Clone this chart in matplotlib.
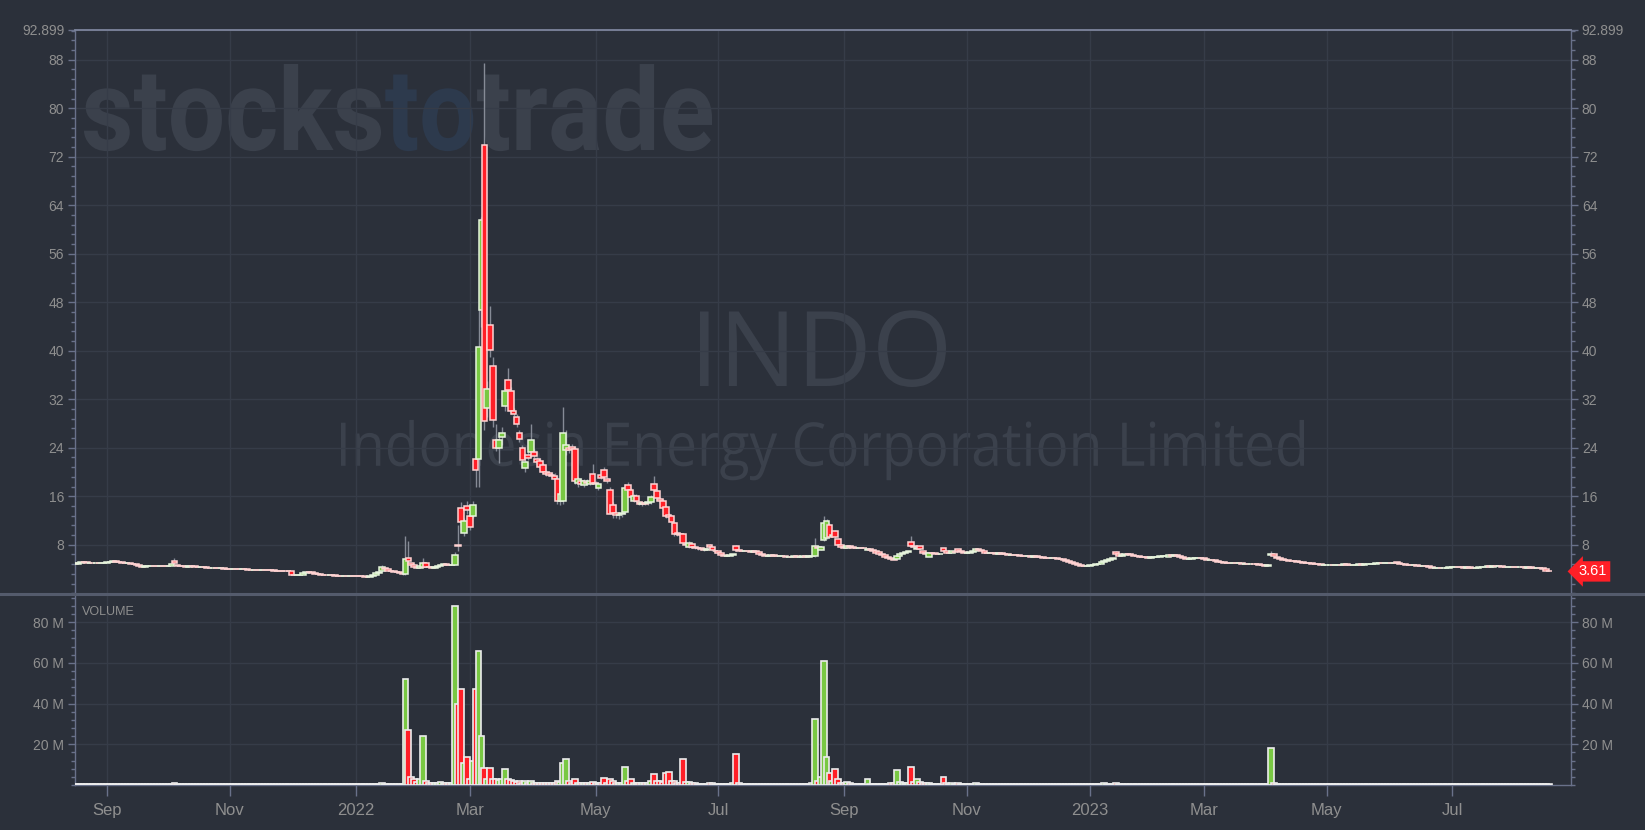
# INDO daily candles with volume, dark trading-platform style

import numpy as np
import pandas as pd
import matplotlib
matplotlib.use('Agg')
import matplotlib.pyplot as plt
import matplotlib.transforms as mtransforms
from matplotlib.textpath import TextPath, text_to_path
from matplotlib.font_manager import FontProperties
from matplotlib.patches import PathPatch
from matplotlib.lines import Line2D
from matplotlib.ticker import FixedLocator, MultipleLocator, FuncFormatter


# --- Data ---
# NYSE holidays inside the window (trading calendar)
holidays = ['2021-09-06', '2021-11-25', '2021-12-24', '2022-01-17', '2022-02-21',
            '2022-04-15', '2022-05-30', '2022-06-20', '2022-07-04', '2022-09-05',
            '2022-11-24', '2022-12-26', '2023-01-02', '2023-01-16', '2023-02-20',
            '2023-04-07', '2023-05-29', '2023-06-19', '2023-07-04']

# one line per month, Aug 2021 .. Aug 2023
opens = [
    4.95, 4.90, 5.05, 5.20, 5.10, 5.00, 5.05, 4.98, 5.02, 4.95, 5.00,
    5.05, 5.10, 5.15, 5.25, 5.20, 5.10, 5.00, 4.95, 5.00, 4.90, 4.80, 4.60, 4.45, 4.40, 4.45, 4.50, 4.55, 4.50, 4.45, 4.55, 4.50,
    4.45, 4.50, 5.35, 4.70, 4.55, 4.50, 4.45, 4.40, 4.45, 4.42, 4.40, 4.38, 4.40, 4.30, 4.25, 4.20, 4.22, 4.15, 4.10, 4.12, 4.08,
    4.05, 4.00, 4.02, 3.98, 3.95, 3.97, 3.95, 3.92, 3.90, 3.92, 3.88, 3.85, 3.85, 3.82, 3.80, 3.78, 3.75, 3.72, 3.70, 3.68, 3.65,
    3.60, 3.10, 2.95, 2.95, 3.00, 3.40, 3.50, 3.45, 3.30, 3.20, 3.15, 3.10, 3.05, 3.00, 3.02, 2.95, 2.92, 2.90, 2.88, 2.90, 2.85, 2.88,
    2.85, 2.82, 2.80, 2.78, 2.75, 2.70, 2.90, 3.10, 3.30, 3.60, 4.10, 4.00, 3.75, 3.60, 3.50, 3.45, 3.40, 3.20, 5.90, 5.00,
    4.60, 4.40, 4.20, 4.40, 4.95, 4.40, 4.30, 4.20, 4.35, 4.55, 4.70, 4.75, 4.65, 4.60, 4.70, 8.00, 14.10, 9.90, 14.40,
    12.7, 12.8, 22.2, 22.1, 46.8, 74.0, 30.6, 44.3, 37.5, 25.3, 23.9, 25.7, 30.9, 35.1, 33.4, 30.1, 29.0, 26.4, 23.9, 20.6, 22.8, 23.3, 23.3,
    22.1, 21.9, 21.1, 20.0, 19.8, 19.5, 19.4, 18.9, 15.3, 15.3, 23.6, 24.0, 24.2, 23.8, 18.2, 18.6, 17.9, 18.4, 18.1, 19.7,
    18.2, 17.3, 19.5, 20.3, 18.8, 17.0, 14.5, 13.2, 12.9, 13.0, 13.4, 17.9, 17.0, 15.3, 16.0, 15.0, 14.8, 14.9, 14.9, 15.0, 18.1,
    16.8, 15.6, 15.3, 14.2, 12.9, 12.7, 11.6, 9.9, 9.8, 9.7, 8.2, 7.7, 8.2, 7.6, 7.5, 7.4, 7.3, 7.2, 8.0, 7.6, 7.0,
    6.9, 6.6, 6.3, 6.1, 6.2, 6.3, 7.8, 7.1, 7.0, 6.9, 6.95, 6.9, 6.85, 6.9, 6.8, 6.5, 6.3, 6.2, 6.2, 6.25,
    6.2, 6.1, 6.1, 6.15, 6.0, 6.05, 6.0, 6.1, 6.0, 6.05, 6.1, 6.05, 6.1, 6.1, 7.6, 7.2, 8.8, 9.1, 11.3, 9.5, 10.2, 8.9, 7.9,
    7.7, 7.4, 7.8, 7.6, 7.55, 7.5, 7.55, 7.5, 7.2, 7.3, 7.2, 7.0, 6.8, 6.5, 6.3, 6.0, 5.8, 5.6, 5.6, 6.1, 6.4,
    6.7, 6.8, 8.4, 7.8, 7.3, 7.8, 7.0, 6.6, 6.0, 6.7, 6.6, 6.45, 6.4, 7.4, 6.9, 6.7, 6.6, 6.85, 7.3, 6.9, 6.8,
    6.7, 6.7, 6.75, 7.0, 7.25, 7.1, 6.9, 6.7, 6.6, 6.65, 6.6, 6.55, 6.6, 6.5, 6.45, 6.35, 6.35, 6.3, 6.25, 6.2, 6.15,
    6.1, 6.1, 6.05, 6.1, 6.05, 6.0, 5.9, 5.85, 5.8, 5.8, 5.75, 5.7, 5.6, 5.45, 5.3, 5.15, 5.05, 4.9, 4.7, 4.55, 4.5,
    4.55, 4.6, 4.7, 4.75, 4.8, 5.1, 5.4, 5.5, 5.6, 6.8, 6.4, 6.1, 6.3, 6.5, 6.4, 6.3, 6.2, 6.1, 6.05, 6.0,
    5.95, 5.9, 5.95, 6.0, 6.05, 6.1, 6.1, 6.05, 6.25, 6.2, 6.25, 6.2, 6.0, 5.8, 5.6, 5.7, 5.8, 5.9, 5.9,
    5.75, 5.6, 5.5, 5.5, 5.45, 5.25, 5.15, 5.1, 5.05, 5.0, 4.95, 5.0, 4.95, 4.95, 4.9, 4.9, 4.85, 4.85, 4.8, 4.75, 4.7, 4.6, 4.5,
    6.3, 6.4, 6.0, 5.8, 5.7, 5.55, 5.5, 5.4, 5.3, 5.25, 5.2, 5.1, 5.05, 5.0, 4.95, 4.85, 4.8, 4.75, 4.7,
    4.7, 4.7, 4.72, 4.68, 4.7, 4.72, 4.7, 4.75, 4.7, 4.68, 4.7, 4.72, 4.75, 4.7, 4.8, 4.85, 4.9, 4.9, 4.95, 5.0, 4.95, 5.0,
    5.05, 5.0, 5.2, 4.95, 4.85, 4.75, 4.7, 4.65, 4.6, 4.6, 4.55, 4.5, 4.5, 4.45, 4.3, 4.2, 4.2, 4.25, 4.2, 4.2, 4.25,
    4.3, 4.35, 4.4, 4.35, 4.3, 4.25, 4.3, 4.25, 4.2, 4.25, 4.3, 4.35, 4.4, 4.45, 4.4, 4.5, 4.45, 4.5, 4.4, 4.35,
    4.4, 4.4, 4.35, 4.3, 4.35, 4.3, 4.25, 4.3, 4.25, 4.2, 4.2, 4.15, 3.95, 3.75,
]

closes = [
    4.90, 5.05, 5.20, 5.10, 5.00, 5.05, 4.98, 5.02, 4.95, 5.00, 5.05,
    5.10, 5.15, 5.25, 5.20, 5.10, 5.00, 4.95, 5.00, 4.90, 4.80, 4.60, 4.45, 4.40, 4.45, 4.50, 4.55, 4.50, 4.45, 4.55, 4.50, 4.45,
    4.55, 4.80, 5.05, 4.55, 4.50, 4.45, 4.40, 4.45, 4.42, 4.40, 4.38, 4.40, 4.30, 4.25, 4.20, 4.22, 4.15, 4.10, 4.12, 4.08, 4.05,
    4.00, 4.02, 3.98, 3.95, 3.97, 3.95, 3.92, 3.90, 3.92, 3.88, 3.85, 3.85, 3.82, 3.80, 3.78, 3.75, 3.72, 3.70, 3.68, 3.65, 3.60,
    3.10, 2.95, 2.95, 3.00, 3.40, 3.50, 3.45, 3.30, 3.20, 3.15, 3.10, 3.05, 3.00, 3.02, 2.95, 2.92, 2.90, 2.88, 2.90, 2.85, 2.88, 2.85,
    2.82, 2.80, 2.78, 2.75, 2.70, 2.90, 3.10, 3.30, 3.45, 4.40, 4.00, 3.75, 3.60, 3.50, 3.45, 3.40, 3.15, 5.70, 5.25, 4.60,
    4.40, 4.20, 4.45, 4.95, 4.40, 4.30, 4.20, 4.35, 4.55, 4.70, 4.75, 4.65, 4.60, 4.65, 6.35, 7.80, 11.80, 12.00, 13.70,
    10.9, 14.5, 20.4, 40.7, 61.5, 28.4, 33.7, 40.2, 28.5, 23.9, 25.3, 26.5, 33.3, 33.5, 30.1, 29.5, 28.0, 25.5, 22.0, 21.7, 22.3, 25.2, 22.7,
    21.7, 20.9, 20.0, 19.6, 19.5, 19.3, 18.9, 15.3, 16.4, 26.5, 24.4, 23.6, 23.8, 18.6, 18.9, 18.1, 18.5, 18.2, 18.6, 18.2,
    18.0, 18.0, 19.0, 19.1, 18.5, 13.1, 13.2, 12.9, 12.9, 13.2, 17.4, 17.0, 15.8, 16.1, 15.3, 14.8, 14.9, 14.8, 15.0, 15.8, 17.0,
    15.7, 15.3, 14.1, 12.7, 12.6, 11.7, 9.8, 9.7, 9.6, 8.3, 8.0, 8.3, 7.6, 7.5, 7.4, 7.3, 7.2, 7.3, 7.6, 7.1, 6.9,
    6.6, 6.3, 6.1, 6.2, 6.3, 6.4, 7.1, 7.0, 6.9, 6.95, 6.9, 6.85, 6.9, 6.8, 6.5, 6.3, 6.2, 6.2, 6.25, 6.2,
    6.1, 6.1, 6.15, 6.0, 6.05, 6.0, 6.1, 6.0, 6.05, 6.1, 6.05, 6.1, 6.15, 7.8, 7.5, 7.6, 11.6, 11.9, 9.3, 9.6, 9.3, 8.0, 7.6,
    7.45, 7.8, 7.6, 7.55, 7.5, 7.55, 7.5, 7.4, 7.3, 7.2, 7.0, 6.7, 6.5, 6.3, 6.0, 5.8, 5.6, 5.45, 6.1, 6.4, 6.7,
    6.8, 6.9, 7.8, 7.6, 7.5, 7.3, 6.7, 6.4, 6.7, 6.6, 6.45, 6.4, 6.5, 7.0, 6.7, 6.6, 6.9, 6.8, 6.9, 6.8, 6.7,
    6.7, 6.75, 7.0, 7.25, 7.1, 6.9, 6.7, 6.6, 6.65, 6.6, 6.55, 6.6, 6.5, 6.45, 6.35, 6.35, 6.3, 6.25, 6.2, 6.15, 6.1,
    6.1, 6.05, 6.1, 6.05, 6.0, 5.9, 5.85, 5.8, 5.8, 5.75, 5.7, 5.6, 5.45, 5.3, 5.15, 5.05, 4.9, 4.7, 4.55, 4.5, 4.55,
    4.6, 4.7, 4.75, 4.8, 5.1, 5.4, 5.5, 5.6, 5.9, 6.4, 6.1, 6.3, 6.5, 6.4, 6.3, 6.2, 6.1, 6.05, 6.0, 5.95,
    5.9, 5.95, 6.0, 6.05, 6.1, 6.1, 6.15, 6.25, 6.2, 6.25, 6.2, 6.0, 5.8, 5.6, 5.7, 5.8, 5.9, 5.9, 5.75,
    5.6, 5.5, 5.5, 5.45, 5.25, 5.15, 5.1, 5.05, 5.0, 4.95, 5.0, 4.95, 4.95, 4.9, 4.9, 4.85, 4.85, 4.8, 4.75, 4.7, 4.6, 4.5, 4.6,
    6.55, 6.1, 5.8, 5.7, 5.55, 5.5, 5.4, 5.3, 5.25, 5.2, 5.1, 5.05, 5.0, 4.95, 4.85, 4.8, 4.75, 4.7, 4.7,
    4.7, 4.72, 4.68, 4.7, 4.72, 4.7, 4.75, 4.7, 4.68, 4.7, 4.72, 4.75, 4.7, 4.8, 4.85, 4.9, 4.9, 4.95, 5.0, 4.95, 5.0, 5.05,
    5.0, 5.05, 4.95, 4.85, 4.75, 4.7, 4.65, 4.6, 4.6, 4.55, 4.5, 4.5, 4.45, 4.3, 4.2, 4.2, 4.25, 4.2, 4.2, 4.25, 4.3,
    4.35, 4.4, 4.35, 4.3, 4.25, 4.3, 4.25, 4.2, 4.25, 4.3, 4.35, 4.4, 4.45, 4.4, 4.5, 4.45, 4.5, 4.4, 4.35, 4.4,
    4.4, 4.35, 4.3, 4.35, 4.3, 4.25, 4.3, 4.25, 4.2, 4.2, 4.15, 3.95, 3.75, 3.61,
]

# volume in millions of shares
volumes = [
    0.5, 0.4, 0.6, 0.4, 0.3, 0.3, 0.3, 0.3, 0.3, 0.3, 0.3,
    0.4, 0.3, 0.5, 0.3, 0.3, 0.3, 0.3, 0.3, 0.3, 0.3, 0.4, 0.4, 0.3, 0.3, 0.3, 0.3, 0.3, 0.3, 0.3, 0.3, 0.3,
    0.3, 0.5, 0.8, 0.4, 0.3, 0.3, 0.3, 0.3, 0.3, 0.3, 0.3, 0.3, 0.3, 0.3, 0.3, 0.3, 0.3, 0.3, 0.3, 0.3, 0.3,
    0.3, 0.3, 0.3, 0.3, 0.3, 0.3, 0.3, 0.3, 0.3, 0.3, 0.3, 0.3, 0.3, 0.3, 0.3, 0.3, 0.3, 0.3, 0.3, 0.3, 0.3,
    0.4, 0.5, 0.4, 0.3, 0.4, 0.3, 0.3, 0.3, 0.3, 0.3, 0.3, 0.3, 0.3, 0.3, 0.3, 0.3, 0.3, 0.3, 0.3, 0.3, 0.3, 0.3,
    0.3, 0.3, 0.3, 0.3, 0.3, 0.4, 0.4, 0.4, 0.5, 1.0, 0.6, 0.4, 0.3, 0.3, 0.3, 0.3, 0.5, 52, 27, 4,
    3, 1.5, 3, 24, 2, 1.2, 1, 1, 1.2, 1.5, 1, 1, 0.8, 1, 88, 40, 47, 11, 14,
    3, 12, 47, 66, 24, 8.5, 3, 8.5, 3, 3, 2.5, 3, 7.8, 3, 2.5, 2, 1.5, 2, 1, 2, 1, 2, 1,
    1, 1, 1, 1, 0.8, 0.8, 1, 2, 1.5, 11, 13, 2, 1, 3, 1, 1, 1, 0.8, 1, 1.5,
    1, 1, 1, 3.5, 1, 3, 2, 1, 1, 1, 9, 2, 3, 1, 1, 0.8, 0.8, 0.8, 0.8, 2, 5.5,
    2, 2, 1.5, 6, 6.5, 2, 2, 1, 1, 13, 1.5, 1.5, 1, 0.8, 0.6, 0.6, 0.6, 0.6, 1, 1, 0.6,
    0.6, 0.6, 0.5, 0.5, 0.6, 1, 15, 1, 0.6, 0.5, 0.5, 0.5, 0.5, 0.5, 0.5, 0.4, 0.4, 0.4, 0.4, 0.4,
    0.4, 0.4, 0.3, 0.4, 0.3, 0.3, 0.4, 0.3, 0.3, 0.4, 0.3, 0.5, 1, 32.6, 2, 4, 61, 14, 6, 2, 8, 3, 1,
    1, 1.5, 0.8, 0.5, 0.5, 0.4, 0.5, 0.4, 3, 0.4, 0.4, 0.5, 0.5, 0.5, 0.6, 0.6, 0.8, 1, 7.5, 1.5, 1,
    0.8, 1, 9, 1.5, 3, 1.5, 1, 0.8, 1, 0.6, 0.5, 0.5, 0.6, 4, 0.8, 0.6, 0.8, 0.6, 0.8, 0.5, 0.5,
    0.5, 0.4, 0.6, 0.8, 0.5, 0.4, 0.4, 0.4, 0.4, 0.4, 0.4, 0.4, 0.3, 0.3, 0.3, 0.3, 0.3, 0.3, 0.3, 0.3, 0.3,
    0.3, 0.3, 0.3, 0.3, 0.3, 0.3, 0.3, 0.3, 0.3, 0.3, 0.3, 0.3, 0.3, 0.3, 0.3, 0.3, 0.3, 0.4, 0.4, 0.3, 0.3,
    0.3, 0.3, 0.3, 0.3, 0.5, 0.8, 0.5, 0.4, 0.6, 1.2, 0.5, 0.4, 0.5, 0.4, 0.3, 0.3, 0.3, 0.3, 0.3, 0.3,
    0.3, 0.3, 0.3, 0.3, 0.3, 0.3, 0.4, 0.4, 0.3, 0.3, 0.3, 0.3, 0.3, 0.3, 0.3, 0.3, 0.3, 0.3, 0.3,
    0.3, 0.3, 0.3, 0.3, 0.4, 0.3, 0.3, 0.3, 0.3, 0.3, 0.3, 0.3, 0.3, 0.3, 0.3, 0.3, 0.3, 0.3, 0.3, 0.3, 0.3, 0.3, 0.3,
    18, 1, 0.6, 0.4, 0.3, 0.3, 0.3, 0.3, 0.3, 0.3, 0.3, 0.3, 0.3, 0.3, 0.3, 0.3, 0.3, 0.3, 0.3,
    0.3, 0.3, 0.3, 0.3, 0.3, 0.3, 0.3, 0.3, 0.3, 0.3, 0.3, 0.3, 0.3, 0.3, 0.3, 0.3, 0.3, 0.3, 0.3, 0.3, 0.3, 0.3,
    0.3, 0.3, 0.4, 0.3, 0.3, 0.3, 0.3, 0.3, 0.3, 0.3, 0.3, 0.3, 0.3, 0.3, 0.3, 0.3, 0.3, 0.3, 0.3, 0.3, 0.3,
    0.3, 0.3, 0.3, 0.3, 0.3, 0.3, 0.3, 0.3, 0.3, 0.3, 0.3, 0.3, 0.3, 0.3, 0.3, 0.3, 0.3, 0.3, 0.3, 0.3,
    0.3, 0.3, 0.3, 0.3, 0.3, 0.3, 0.3, 0.3, 0.3, 0.3, 0.3, 0.3, 0.4, 0.3,
]

# visible wicks (day index, high, low); days not listed show no wick beyond the body
wick_days = [34, 105, 112, 113, 114, 119] + list(range(130, 220)) + \
            [226, 253, 254, 255, 256, 257, 258, 259, 260, 261, 262, 286, 356, 409]
wick_highs = [
    5.8, 4.6, 3.45, 9.4, 8.6, 5.8,
    6.8, 11.2, 15.0, 12.5, 15.3, 13.5, 15.3, 23.5, 47.3, 62.0, 87.5, 35.0, 47.3, 39.0, 28.0, 26.0, 27.5, 34.5, 37.1, 34.0,
    30.5, 29.5, 27.0, 24.5, 22.3, 23.5, 28.0, 23.8,
    22.5, 22.3, 21.5, 20.4, 20.2, 20.0, 19.8, 19.5, 17.0, 30.8, 27.0, 24.5, 24.6, 24.3, 19.2, 19.0, 18.8, 18.8, 18.9, 21.4,
    18.5, 18.3, 20.0, 20.8, 19.2, 17.5, 15.0, 13.5, 13.3, 13.5, 18.0, 18.4, 17.3, 16.4, 16.3, 15.3, 15.2, 15.2, 15.3, 16.2, 19.3,
    17.0, 15.8, 15.5, 14.4, 13.2, 12.9, 11.8, 10.2, 10.0, 9.9, 8.5, 8.6, 8.3, 7.8, 7.6, 7.5, 7.4, 7.5, 8.2, 7.7, 7.1,
    8.0, 9.1, 7.9, 7.8, 12.8, 12.3, 11.6, 9.9, 10.5, 9.1, 8.1, 9.4, 7.0, 6.9,
]
wick_lows = [
    4.95, 3.5, 3.0, 3.0, 5.1, 4.3,
    4.6, 7.0, 11.0, 9.5, 13.0, 10.5, 12.5, 17.5, 17.6, 44.0, 27.0, 29.0, 39.0, 27.5, 23.5, 21.5, 24.5, 30.0, 33.0, 29.5,
    29.2, 27.5, 25.0, 21.5, 20.0, 22.0, 22.5, 22.3,
    21.3, 20.5, 19.8, 19.4, 19.3, 19.0, 18.7, 14.8, 14.5, 14.8, 22.8, 23.2, 23.4, 18.0, 17.5, 17.8, 17.5, 17.9, 17.8, 18.0,
    17.4, 17.0, 18.8, 18.9, 18.2, 13.0, 12.5, 12.5, 12.3, 12.6, 13.0, 16.8, 15.5, 15.0, 15.0, 14.5, 14.4, 14.5, 14.6, 14.8, 16.9,
    15.4, 14.9, 13.9, 12.5, 12.3, 11.5, 9.5, 9.4, 9.3, 8.1, 7.7, 7.5, 7.4, 7.3, 7.2, 7.1, 7.0, 7.1, 7.5, 7.0, 6.7,
    7.0, 6.0, 7.2, 7.1, 8.6, 9.0, 9.1, 9.3, 9.1, 7.9, 7.4, 7.7, 6.3, 6.2,
]

price_ticks = [8, 16, 24, 32, 40, 48, 56, 64, 72, 80, 88, 92.899]
volume_ticks = [20, 40, 60, 80]


# --- Style ---
BG = '#2b303a'
GRID = '#363c48'
SPINE = '#69718a'
TOPLINE = '#7d859d'
SEP = '#545b6c'
TEXT = '#8f8f8f'
GREEN = '#79c843'
RED = '#ff1f27'
GREEN_EDGE = '#e6f4dc'
RED_EDGE = '#ffd2d2'
VOL_EDGE = '#ececec'
WICK = '#868b96'
WM = '#3b414c'
WM_BLUE = '#2d3a4d'

plt.rcParams['font.family'] = ['Liberation Sans', 'DejaVu Sans']

W_PX, H_PX = 1645, 830


# --- Trading calendar ---
days = pd.bdate_range('2021-08-17', '2023-08-31')
days = days[~days.isin(pd.to_datetime(holidays))][:len(closes)]
x = np.arange(len(closes))

month_first = pd.Series(x, index=days).groupby([days.year, days.month]).first()
tick_pos, tick_lab = [], []
for (yr, mo), idx in month_first.items():
    if mo % 2 == 1 and idx > 0:
        tick_pos.append(idx)
        tick_lab.append(str(yr) if mo == 1 else pd.Timestamp(yr, mo, 1).strftime('%b'))


# --- Figure and axes ---
fig = plt.figure(figsize=(W_PX / 100, H_PX / 100), dpi=100, facecolor=BG)
left, right = 75.3, 1570.7
ax = fig.add_axes([left / W_PX, 1 - 593.3 / H_PX, (right - left) / W_PX, (593.3 - 30) / H_PX])
axv = fig.add_axes([left / W_PX, 1 - 785 / H_PX, (right - left) / W_PX, (785 - 594.5) / H_PX], sharex=ax)

for a in (ax, axv):
    a.set_facecolor(BG)
    a.set_axisbelow(True)
    for s in a.spines.values():
        s.set_color(SPINE)
        s.set_linewidth(1)
ax.spines['top'].set_color(TOPLINE)
ax.spines['top'].set_linewidth(1.3)
ax.spines['bottom'].set_visible(False)
axv.spines['top'].set_visible(False)


# --- Watermarks ---
def fitted_path(a, text, prop, x0, x1, top, base, color, ref='H', start=0.0, full=None):
    """Draw text as a path stretched to a pixel box (x0..x1, cap top..baseline)."""
    whole = TextPath((0, 0), full or text, size=100, prop=prop)
    ext = whole.get_extents()
    ref_h = TextPath((0, 0), ref, size=100, prop=prop).get_extents().y1
    sx = (x1 - x0) / ext.width
    sy = (base - top) / ref_h
    tr = mtransforms.Affine2D().translate(-ext.x0, 0).scale(sx, sy).translate(x0, H_PX - base)
    path = TextPath((start, 0), text, size=100, prop=prop)
    a.add_artist(PathPatch(path, facecolor=color, edgecolor='none', transform=tr, zorder=0.1))


bold = FontProperties(family='Roboto', weight='bold', size=100)
brand = [('stocks', WM), ('to', WM_BLUE), ('trade', WM)]
offset = 0.0
for part, col in brand:
    fitted_path(ax, part, bold, 84, 712, 64, 150, col, ref='k', start=offset, full='stockstotrade')
    offset += text_to_path.get_text_width_height_descent(part, bold, ismath=False)[0]

light = FontProperties(family='Open Sans', size=100)
fitted_path(ax, 'INDO', light, 700, 946, 311.5, 386, WM)
fitted_path(ax, 'Indonesia Energy Corporation Limited', light, 341, 1304, 422.7, 465.8, WM)


# --- Candles ---
o = np.array(opens)
c = np.array(closes)
up = c >= o
body_col = np.where(up, GREEN, RED)
edge_col = np.where(up, GREEN_EDGE, RED_EDGE)

ax.vlines(wick_days, wick_lows, wick_highs, color=WICK, linewidth=1, zorder=2)
ax.bar(x, np.abs(c - o), bottom=np.minimum(o, c), width=1.95, color=body_col,
       edgecolor=edge_col, linewidth=1.1, zorder=3)

ax.set_ylim(0, 92.899)
ax.set_xlim(0.1, 511.5)
ax.yaxis.set_major_locator(FixedLocator(price_ticks))
ax.yaxis.set_minor_locator(MultipleLocator(1.6))
ax.yaxis.set_major_formatter(FuncFormatter(lambda v, p: f'{v:g}'))
ax.grid(True, which='major', color=GRID, linewidth=1)
ax.tick_params(axis='y', which='major', length=5, width=1, color=SPINE, labelcolor=TEXT,
               labelsize=10, pad=3, left=True, right=True, labelleft=True, labelright=True)
ax.tick_params(axis='y', which='minor', length=3, width=1, color=SPINE, left=True, right=True)
ax.tick_params(axis='x', which='both', length=0, labelbottom=False)

# last price tag on the right axis
blend = mtransforms.blended_transform_factory(ax.transAxes, ax.transData)
ax.text(1.0 + 8 / (right - left), closes[-1], f'{closes[-1]:.2f}', transform=blend,
        ha='left', va='center', color='white', fontsize=10.5, clip_on=False, zorder=10,
        bbox=dict(boxstyle='larrow,pad=0.22', facecolor=RED, edgecolor='none'))


# --- Volume ---
axv.bar(x, volumes, width=2.0, color=body_col, edgecolor=VOL_EDGE, linewidth=1.2, zorder=3)
axv.set_ylim(0, 93.6)
axv.yaxis.set_major_locator(FixedLocator(volume_ticks))
axv.yaxis.set_minor_locator(MultipleLocator(4))
axv.yaxis.set_major_formatter(FuncFormatter(lambda v, p: f'{v:.0f} M'))
axv.grid(True, which='major', color=GRID, linewidth=1)
axv.tick_params(axis='y', which='major', length=5, width=1, color=SPINE, labelcolor=TEXT,
                labelsize=10, pad=3, left=True, right=True, labelleft=True, labelright=True)
axv.tick_params(axis='y', which='minor', length=3, width=1, color=SPINE, left=True, right=True)
axv.set_xticks(tick_pos)
axv.set_xticklabels(tick_lab)
axv.tick_params(axis='x', which='major', length=8, width=1, color=SPINE, labelcolor=TEXT,
                labelsize=12, pad=5)
axv.text(6.5 / (right - left), 1 - 17.5 / 190.5, 'VOLUME', transform=axv.transAxes,
         ha='left', va='center', color=TEXT, fontsize=9)

# separator between price and volume panes
fig.add_artist(Line2D([0, 1], [1 - 593.5 / H_PX] * 2, transform=fig.transFigure,
                      color=SEP, linewidth=2.2))

fig.savefig('out.png', dpi=100, facecolor=BG)
